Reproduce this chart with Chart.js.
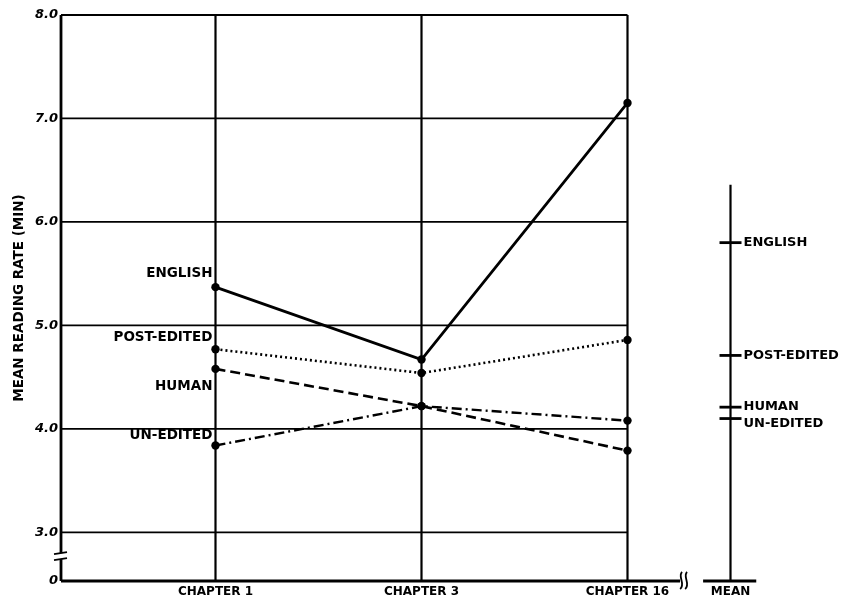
<!DOCTYPE html>
<html><head><meta charset="utf-8">
<script src="https://cdn.jsdelivr.net/npm/chart.js@4.4.1/dist/chart.umd.min.js"></script>
<style>html,body{margin:0;padding:0;background:#fff}canvas{display:block}</style>
</head><body>
<canvas id="c" width="842" height="603"></canvas>
<script>
// ---- data ----
const categories = ['CHAPTER 1', 'CHAPTER 3', 'CHAPTER 16'];
const categoryPos = [1, 2, 3];
const english    = [5.37, 4.67, 7.15];
const postEdited = [4.77, 4.54, 4.86];
const human      = [4.58, 4.22, 3.79];
const unEdited   = [3.84, 4.22, 4.08];
const seriesNames = ['ENGLISH', 'POST-EDITED', 'HUMAN', 'UN-EDITED'];
const meanLabel = 'MEAN';
const meanPos = 3.5;
const meanValues = [5.80, 4.71, 4.21, 4.10];
const yTickValues = [3, 4, 5, 6, 7, 8];
const yTickLabels = ['3.0', '4.0', '5.0', '6.0', '7.0', '8.0'];
const yBreakLabel = '0';
const yTitle = 'MEAN READING RATE (MIN)';

const Y_MIN = 2.53, Y_MAX = 8, X_MIN = 0.25, X_MAX = 3.75;
const FONT = '"DejaVu Sans", sans-serif';

const toXY = arr => arr.map((v, i) => ({x: categoryPos[i], y: v}));

const lineBase = {
  type: 'line', borderColor: '#000', backgroundColor: '#000',
  pointRadius: 4.2, pointBackgroundColor: '#000', pointBorderWidth: 0,
  tension: 0, fill: false
};

const frame = {
  id: 'frame',
  beforeDatasetsDraw(chart) {
    const {ctx, scales: {x, y}} = chart;
    const X = v => x.getPixelForValue(v), Y = v => y.getPixelForValue(v);
    ctx.save();
    ctx.strokeStyle = '#000';
    ctx.lineCap = 'butt';
    // horizontal grid lines
    ctx.lineWidth = 1.8;
    yTickValues.forEach(v => {
      ctx.beginPath(); ctx.moveTo(X(X_MIN), Y(v)); ctx.lineTo(X(categoryPos[2]), Y(v)); ctx.stroke();
    });
    // vertical category lines
    ctx.lineWidth = 2.2;
    categoryPos.forEach(v => {
      ctx.beginPath(); ctx.moveTo(X(v), Y(Y_MIN)); ctx.lineTo(X(v), Y(Y_MAX)); ctx.stroke();
    });
    // left axis
    ctx.lineWidth = 2.8;
    ctx.beginPath(); ctx.moveTo(X(X_MIN), Y(Y_MIN)); ctx.lineTo(X(X_MIN), Y(Y_MAX)); ctx.stroke();
    // bottom axis (to break)
    ctx.beginPath(); ctx.moveTo(X(X_MIN), Y(Y_MIN)); ctx.lineTo(X(3.255), Y(Y_MIN)); ctx.stroke();
    // break marks left axis
    const lx = X(X_MIN), by = Y(2.77);
    ctx.fillStyle = '#fff';
    ctx.fillRect(lx - 2, by - 3, 4, 6);
    ctx.lineWidth = 1.8;
    ctx.beginPath(); ctx.moveTo(lx - 7, by - 2); ctx.lineTo(lx + 6, by - 4); ctx.stroke();
    ctx.beginPath(); ctx.moveTo(lx - 7, by + 4); ctx.lineTo(lx + 6, by + 2); ctx.stroke();
    // break marks bottom axis
    const bx = X(3.27), byy = Y(Y_MIN);
    [bx - 2, bx + 3].forEach(sx => {
      ctx.beginPath();
      ctx.moveTo(sx + 1, byy - 9);
      ctx.bezierCurveTo(sx - 4, byy - 5, sx + 5, byy + 3, sx - 1, byy + 8);
      ctx.stroke();
    });
    // mean axis
    ctx.lineWidth = 2.2;
    ctx.beginPath(); ctx.moveTo(X(meanPos), Y(Y_MIN)); ctx.lineTo(X(meanPos), Y(6.36)); ctx.stroke();
    ctx.lineWidth = 2.8;
    ctx.beginPath(); ctx.moveTo(X(3.367), Y(Y_MIN)); ctx.lineTo(X(3.625), Y(Y_MIN)); ctx.stroke();
    ctx.restore();
  },
  afterDatasetsDraw(chart) {
    const {ctx, scales: {x, y}} = chart;
    const X = v => x.getPixelForValue(v), Y = v => y.getPixelForValue(v);
    ctx.save();
    ctx.fillStyle = '#000';
    ctx.font = 'bold 13.5px ' + FONT;
    ctx.textBaseline = 'middle';
    // series labels at Chapter 1
    const firsts = [english[0], postEdited[0], human[0], unEdited[0]];
    const offs = [-14, -12, 18, -10];
    ctx.textAlign = 'right';
    seriesNames.forEach((n, i) => ctx.fillText(n, X(categoryPos[0]) - 3, Y(firsts[i]) + offs[i]));
    // mean labels
    ctx.font = 'bold 13px ' + FONT;
    ctx.textAlign = 'left';
    const moffs = [0, 0, -1, 5];
    seriesNames.forEach((n, i) => ctx.fillText(n, X(meanPos) + 13, Y(meanValues[i]) + moffs[i]));
    ctx.restore();
  }
};

new Chart(document.getElementById('c'), {
  data: {
    datasets: [
      Object.assign({}, lineBase, {label: seriesNames[0], data: toXY(english), borderWidth: 2.8}),
      Object.assign({}, lineBase, {label: seriesNames[1], data: toXY(postEdited), borderWidth: 2.6, borderDash: [2, 3]}),
      Object.assign({}, lineBase, {label: seriesNames[2], data: toXY(human), borderWidth: 2.6, borderDash: [10, 5]}),
      Object.assign({}, lineBase, {label: seriesNames[3], data: toXY(unEdited), borderWidth: 2.4, borderDash: [10, 4, 2, 4]}),
      {type: 'scatter', label: 'MEAN', data: meanValues.map(v => ({x: meanPos, y: v})),
       pointStyle: 'line', pointRadius: 11, pointBorderWidth: 2.8, borderColor: '#000', backgroundColor: '#000',
       pointHoverRadius: 11}
    ]
  },
  options: {
    responsive: false, animation: false, devicePixelRatio: 1,
    layout: {padding: {top: 15, right: 60, left: 0, bottom: 0}},
    plugins: {legend: {display: false}, tooltip: {enabled: false}},
    scales: {
      x: {
        type: 'linear', min: X_MIN, max: X_MAX,
        grid: {display: false, drawTicks: false}, border: {display: false},
        afterBuildTicks: s => { s.ticks = categoryPos.concat([meanPos]).map(v => ({value: v})); },
        afterFit: s => { s.height = 22; },
        ticks: {
          autoSkip: false, maxRotation: 0, padding: 4, color: '#000',
          font: {family: FONT, size: 12, weight: 'bold'},
          callback: v => { const i = categoryPos.indexOf(v); return i >= 0 ? categories[i] : (v === meanPos ? meanLabel : ''); }
        }
      },
      y: {
        type: 'linear', min: Y_MIN, max: Y_MAX,
        grid: {display: false, drawTicks: false}, border: {display: false},
        afterBuildTicks: s => { s.ticks = [{value: Y_MIN}].concat(yTickValues.map(v => ({value: v}))); },
        afterFit: s => { s.width = 61; },
        ticks: {
          autoSkip: false, padding: 3, color: '#000',
          font: {family: FONT, size: 13, weight: 'bold', style: 'italic'},
          callback: v => { const i = yTickValues.indexOf(v); return i >= 0 ? yTickLabels[i] : yBreakLabel; }
        },
        title: {display: true, text: yTitle, color: '#000', padding: {top: 11, bottom: 0},
          font: {family: FONT, size: 13.5, weight: 'bold'}}
      }
    }
  },
  plugins: [frame]
});
</script>
</body></html>
